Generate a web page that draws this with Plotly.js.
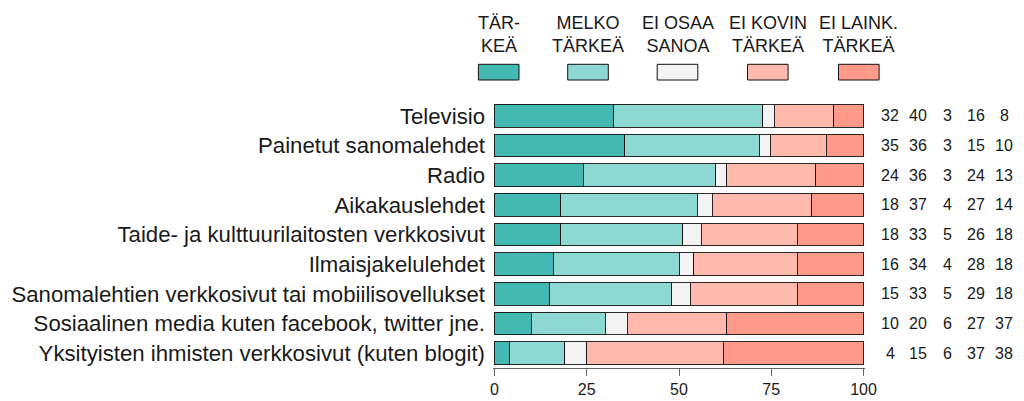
<!DOCTYPE html>
<html>
<head>
<meta charset="utf-8">
<script src="https://cdn.plot.ly/plotly-3.0.1.min.js"></script>
<style>html,body{margin:0;padding:0;background:#fff;}#chart{width:1024px;height:401px;}</style>
</head>
<body>
<div id="chart"></div>
<script>
const categories = [
  "Televisio",
  "Painetut sanomalehdet",
  "Radio",
  "Aikakauslehdet",
  "Taide- ja kulttuurilaitosten verkkosivut",
  "Ilmaisjakelulehdet",
  "Sanomalehtien verkkosivut tai mobiilisovellukset",
  "Sosiaalinen media kuten facebook, twitter jne.",
  "Yksityisten ihmisten verkkosivut (kuten blogit)"
];
const seriesNames = ["TÄR-<br>KEÄ", "MELKO<br>TÄRKEÄ", "EI OSAA<br>SANOA", "EI KOVIN<br>TÄRKEÄ", "EI LAINK.<br>TÄRKEÄ"];
const tarkea      = [32, 35, 24, 18, 18, 16, 15, 10, 4];
const melkoTarkea = [40, 36, 36, 37, 33, 34, 33, 20, 15];
const eiOsaaSanoa = [3, 3, 3, 4, 5, 4, 5, 6, 6];
const eiKovin     = [16, 15, 24, 27, 26, 28, 29, 27, 37];
const eiLainkaan  = [8, 10, 13, 14, 18, 18, 18, 37, 38];
const xTicks = [0, 25, 50, 75, 100];

const series = [tarkea, melkoTarkea, eiOsaaSanoa, eiKovin, eiLainkaan];
const colors = ["#44B8B3", "#8ED8D3", "#F3F3F3", "#FFBAAD", "#FF998A"];

// layout geometry (pixels)
const W = 1024, H = 401, L = 493, R = 159, T = 101, B = 33;
const pw = W - L - R, ph = H - T - B;
const px = x => (x - L) / pw;
const py = y => (H - B - y) / ph;
const legendCenters = [498.7, 588, 677.5, 767.8, 858.8];
const numberCols = [890, 918, 947, 976, 1004];

const totals = categories.map((c, i) => series.reduce((s, arr) => s + arr[i], 0));

const traces = series.map((vals, k) => ({
  type: "bar",
  orientation: "h",
  y: categories,
  x: vals.map((v, i) => v / totals[i] * 100),
  name: seriesNames[k],
  marker: {color: colors[k], line: {color: "rgba(20,20,20,0.9)", width: 1}},
  hoverinfo: "skip",
  showlegend: false
}));

const shapes = [];
const annotations = [];
seriesNames.forEach((n, k) => {
  const cx = legendCenters[k];
  shapes.push({
    type: "rect", xref: "paper", yref: "paper",
    x0: px(cx - 20.3), x1: px(cx + 20.3), y0: py(80), y1: py(64.3),
    fillcolor: colors[k], line: {color: "#111", width: 1}
  });
  annotations.push({
    xref: "paper", yref: "paper", x: px(cx), y: py(34.5),
    xanchor: "center", yanchor: "middle", showarrow: false,
    text: n, align: "center",
    font: {family: "Liberation Sans Narrow, Arial Narrow, Liberation Sans, Arial, sans-serif", size: 18, color: "#1a1a1a"}
  });
});
categories.forEach((c, i) => {
  series.forEach((vals, k) => {
    annotations.push({
      xref: "paper", yref: "y", x: px(numberCols[k]), y: c,
      xanchor: "center", yanchor: "middle", showarrow: false,
      text: String(vals[i]),
      font: {family: "Liberation Sans, Arial, sans-serif", size: 16, color: "#1a1a1a"}
    });
  });
});

const layout = {
  width: W, height: H,
  margin: {l: L, r: R, t: T, b: B, pad: 0},
  paper_bgcolor: "#fff", plot_bgcolor: "#fff",
  barmode: "stack",
  bargap: 0.235,
  font: {family: "Liberation Sans, Arial, sans-serif", color: "#1a1a1a"},
  xaxis: {
    range: [-0.4, 100.4], tickvals: xTicks, ticktext: xTicks.map(String),
    showgrid: false, zeroline: false,
    showline: true, linecolor: "#666", linewidth: 1,
    ticks: "outside", ticklen: 7, tickcolor: "#666", tickwidth: 1,
    tickfont: {size: 16, color: "#1a1a1a"}, fixedrange: true
  },
  yaxis: {
    autorange: "reversed", type: "category",
    showgrid: false, zeroline: false, showline: false, ticks: "",
    tickfont: {size: 22.2, color: "#1a1a1a"},
    ticklabelstandoff: 7, fixedrange: true
  },
  shapes: shapes,
  annotations: annotations,
  showlegend: false
};

Plotly.newPlot("chart", traces, layout, {displayModeBar: false, staticPlot: true});
</script>
</body>
</html>
